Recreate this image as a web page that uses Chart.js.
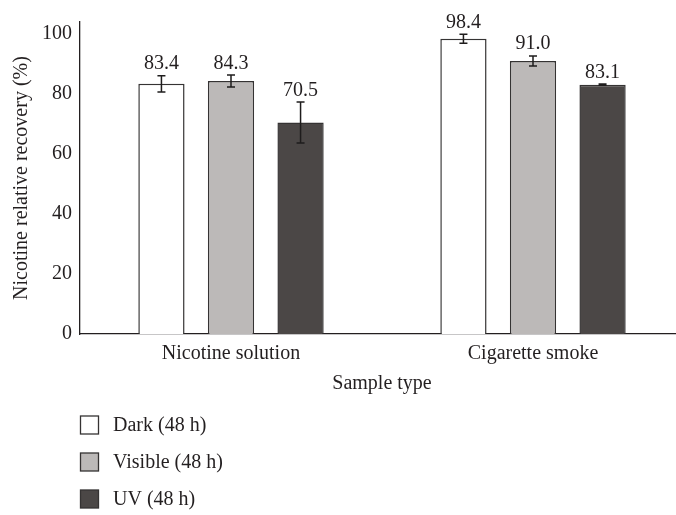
<!DOCTYPE html>
<html>
<head>
<meta charset="utf-8">
<title>Nicotine relative recovery by sample type</title>
<script src="https://cdn.jsdelivr.net/npm/chart.js@4.4.1/dist/chart.umd.min.js"></script>
<style>
  html, body { margin: 0; padding: 0; background: #ffffff; overflow: hidden; }
  #wrap { width: 684px; height: 515px; position: relative; }
</style>
</head>
<body>
<div id="wrap"><canvas id="chart"></canvas></div>
<script>
// Sample types on the x axis
const categories = ['Nicotine solution', 'Cigarette smoke'];
// Storage conditions (one series each)
const seriesNames = ['Dark (48 h)', 'Visible (48 h)', 'UV (48 h)'];
// Mean relative recovery (%)
const darkValues = [83.4, 98.4];
const visibleValues = [84.3, 91.0];
const uvValues = [70.5, 83.1];
// Standard deviations shown as error bars
const darkErrors = [2.7, 1.5];
const visibleErrors = [2.0, 1.7];
const uvErrors = [6.8, 0.2];
// Y axis tick values
const yTicks = [0, 20, 40, 60, 80, 100];

const INK = '#231f20';
const FONT = 'Liberation Serif, Times New Roman, serif';
const seriesFills = ['#ffffff', '#bcb9b8', '#4b4746'];
const seriesBorder = '#353333';

const valueSets = [darkValues, visibleValues, uvValues];
const errorSets = [darkErrors, visibleErrors, uvErrors];

// Error bars plus the value printed above each bar
const errorBarPlugin = {
  id: 'errorBars',
  afterDatasetsDraw(chart) {
    const ctx = chart.ctx;
    const y = chart.scales.y;
    ctx.save();
    chart.data.datasets.forEach((ds, i) => {
      const meta = chart.getDatasetMeta(i);
      meta.data.forEach((bar, j) => {
        const v = ds.data[j];
        const e = errorSets[i][j];
        const top = y.getPixelForValue(v + e);
        const bot = y.getPixelForValue(v - e);
        const x = bar.x;
        ctx.strokeStyle = '#1e1c1c';
        ctx.lineWidth = 1.5;
        ctx.beginPath();
        ctx.moveTo(x, top); ctx.lineTo(x, bot);
        ctx.moveTo(x - 4, top); ctx.lineTo(x + 4, top);
        ctx.moveTo(x - 4, bot); ctx.lineTo(x + 4, bot);
        ctx.stroke();
        ctx.fillStyle = INK;
        ctx.font = '20px ' + FONT;
        ctx.textAlign = 'center';
        ctx.textBaseline = 'alphabetic';
        ctx.fillText(v.toFixed(1), x, top - 6.5);
      });
    });
    ctx.restore();
  }
};

// Vertical legend list below the axis title
const stackedLegendPlugin = {
  id: 'stackedLegend',
  afterDraw(chart) {
    const ctx = chart.ctx;
    const startY = chart.scales.x.bottom + 29;
    ctx.save();
    chart.data.datasets.forEach((ds, i) => {
      const cy = startY + i * 37;
      ctx.fillStyle = ds.backgroundColor;
      ctx.fillRect(80.5, cy - 9, 18, 18);
      ctx.strokeStyle = seriesBorder;
      ctx.lineWidth = 1.3;
      ctx.strokeRect(80.5, cy - 9, 18, 18);
      ctx.fillStyle = INK;
      ctx.font = '20px ' + FONT;
      ctx.textAlign = 'left';
      ctx.textBaseline = 'middle';
      ctx.fillText(ds.label, 113, cy + 1);
    });
    ctx.restore();
  }
};

new Chart(document.getElementById('chart'), {
  type: 'bar',
  data: {
    labels: categories,
    datasets: seriesNames.map((name, i) => ({
      label: name,
      data: valueSets[i],
      backgroundColor: seriesFills[i],
      borderColor: seriesBorder,
      borderWidth: 1.5,
      categoryPercentage: 0.691,
      barPercentage: 0.665
    }))
  },
  options: {
    responsive: true,
    maintainAspectRatio: false,
    devicePixelRatio: 1,
    animation: false,
    layout: { padding: { top: 22, right: 0, bottom: 119, left: 0 } },
    plugins: {
      legend: { display: false },
      tooltip: { enabled: false }
    },
    scales: {
      x: {
        grid: { display: false, drawTicks: false },
        border: { display: true, color: INK, width: 1.3 },
        ticks: { color: INK, font: { family: FONT, size: 20 }, padding: 8 },
        title: {
          display: true, text: 'Sample type', color: INK,
          font: { family: FONT, size: 20 }, padding: { top: 0, bottom: 0 }
        },
        afterFit(s) { s.height = 62; }
      },
      y: {
        min: 0,
        max: 104,
        grid: { display: false, drawTicks: false },
        border: { display: true, color: INK, width: 1.3 },
        afterBuildTicks(s) { s.ticks = yTicks.map(v => ({ value: v })); },
        ticks: { color: INK, font: { family: FONT, size: 20 }, padding: 8, includeBounds: false },
        title: {
          display: true, text: 'Nicotine relative recovery (%)', color: INK,
          font: { family: FONT, size: 20 }, padding: { top: 10, bottom: 0 }
        },
        afterFit(s) { s.width = 80; }
      }
    }
  },
  plugins: [errorBarPlugin, stackedLegendPlugin]
});
</script>
</body>
</html>
